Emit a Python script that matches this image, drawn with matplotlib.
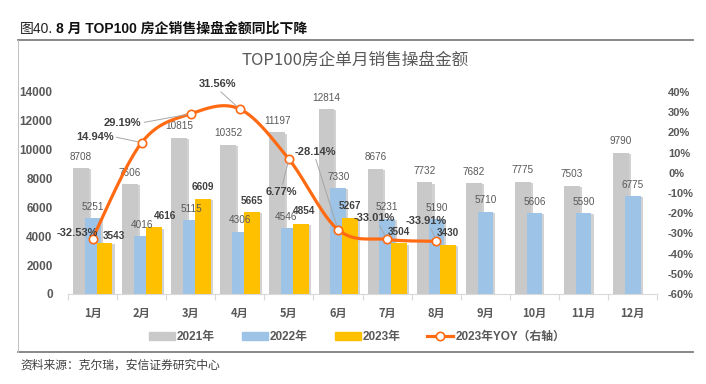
import numpy as np
import matplotlib
matplotlib.use("Agg")
import matplotlib.pyplot as plt
from matplotlib.patches import Rectangle
from matplotlib.lines import Line2D
import matplotlib.patheffects as pe

plt.rcParams['font.family'] = ['Liberation Sans', 'Noto Sans CJK SC', 'DejaVu Sans']

months = ['1月', '2月', '3月', '4月', '5月', '6月', '7月', '8月', '9月', '10月', '11月', '12月']
s2021 = [8708, 7606, 10815, 10352, 11197, 12814, 8676, 7732, 7682, 7775, 7503, 9790]
s2022 = [5251, 4016, 5115, 4306, 4546, 7330, 5231, 5190, 5710, 5606, 5590, 6775]
s2023 = [3543, 4616, 6609, 5665, 4854, 5267, 3504, 3430]
yoy = [-32.53, 14.94, 29.19, 31.56, 6.77, -28.14, -33.01, -33.91]
legend_labels = ['2021年', '2022年', '2023年', '2023年YOY（右轴）']

W, H = 706, 384
fig = plt.figure(figsize=(W / 100, H / 100), dpi=100)

def fx(x):
    return x / W

def fy(y):
    return 1 - y / H

C21, C22, C23, CL = '#C9C9C9', '#9DC3E6', '#FFC000', '#FF6A13'
TXT = '#595959'

ax = fig.add_axes([fx(68), fy(294), fx(657) - fx(68), fy(92) - fy(294)])
ax2 = ax.twinx()
ax.set_zorder(1)
ax2.set_zorder(2)
ax.patch.set_visible(False)

x = np.arange(len(months))
bw = 0.32
shadow = [pe.SimplePatchShadow(offset=(1.5, -0.8), alpha=0.35, shadow_rgbFace='#7f7f7f'), pe.Normal()]
b1 = ax.bar(x - 0.235, s2021, bw, color=C21, zorder=2)
b2 = ax.bar(x + 0.005, s2022, bw, color=C22, zorder=3)
b3 = ax.bar(x[:len(s2023)] + 0.245, s2023, bw, color=C23, zorder=4)
for bars in (b1, b2, b3):
    for r in bars:
        r.set_path_effects(shadow)

ax.set_xlim(-0.5, len(months) - 0.5)
ax.set_ylim(0, 14000)
ax.set_yticks(np.arange(0, 14001, 2000))
ax.set_xticks(x)
ax.set_xticklabels(months, family=['Noto Sans CJK SC'], fontweight='bold', fontsize=8, color=TXT)
ax.set_xticks(np.arange(-0.5, len(months), 1), minor=True)
ax.tick_params(axis='x', which='major', length=0, pad=9)
ax.tick_params(axis='x', which='minor', length=4, color='#D9D9D9', width=0.8)
ax.tick_params(axis='y', length=0, pad=11, labelsize=8.5, labelcolor=TXT)
for t in ax.get_yticklabels():
    t.set_fontweight('bold')
for sp in ['top', 'right', 'left']:
    ax.spines[sp].set_visible(False)
ax.spines['bottom'].set_color('#D9D9D9')
ax.spines['bottom'].set_linewidth(0.8)

ax2.set_ylim(-60, 40)
ax2.set_yticks(np.arange(-60, 41, 10))
ax2.set_yticklabels([f'{v}%' for v in range(-60, 41, 10)])
ax2.tick_params(axis='y', length=0, pad=8, labelsize=8, labelcolor=TXT)
for t in ax2.get_yticklabels():
    t.set_fontweight('bold')
for sp in ax2.spines.values():
    sp.set_visible(False)

LFS = 7.2
# bar labels
for i, v in enumerate(s2021):
    ax.annotate(str(v), (x[i] - 0.235, v), xytext=(0, 8.3), textcoords='offset points',
                ha='center', va='center', fontsize=LFS, color=TXT, zorder=6)
for i, v in enumerate(s2022):
    dx = -2 if i == 4 else 0
    ax.annotate(str(v), (x[i] + 0.005, v), xytext=(dx, 8.3), textcoords='offset points',
                ha='center', va='center', fontsize=LFS, color=TXT, zorder=6)
y23_off = [(6.5, 5), (8.3, 8.3), (0, 8.3), (0, 8.3), (2, 9.5), (0, 8.3), (0, 8.3), (0, 8.3)]
for i, v in enumerate(s2023):
    dx, dy = y23_off[i]
    ax.annotate(str(v), (x[i] + 0.245, v), xytext=(dx, dy), textcoords='offset points',
                ha='center', va='center', fontsize=LFS, color='#404040', fontweight='bold', zorder=6)

# smooth YOY line (Catmull-Rom through the points)
px = np.arange(len(yoy), dtype=float)
py = np.array(yoy, dtype=float)
P = np.column_stack([px, py])
Pe = np.vstack([P[0], P, P[-1]])
curve = []
for k in range(1, len(Pe) - 2):
    p0, p1, p2, p3 = Pe[k - 1], Pe[k], Pe[k + 1], Pe[k + 2]
    t = np.linspace(0, 1, 30)[:, None]
    seg = 0.5 * ((2 * p1) + (-p0 + p2) * t + (2 * p0 - 5 * p1 + 4 * p2 - p3) * t ** 2
                 + (-p0 + 3 * p1 - 3 * p2 + p3) * t ** 3)
    curve.append(seg)
curve = np.vstack(curve)
ax2.plot(curve[:, 0], curve[:, 1], color=CL, lw=2.3, zorder=5, solid_capstyle='round')
ax2.plot(px, py, ls='none', marker='o', ms=6, mfc='white', mec=CL, mew=1.2, zorder=6)

# YOY labels (offsets in pixels: dx, dy up), leader flag, relpos
yoy_pos = [(-15, 6, False, (0.5, 0.5)), (-47, 6, True, (1, 0.5)), (-68, -9, True, (1, 0.5)),
           (-22, 25, True, (0.5, 0)), (-7, -33, True, (0.5, 1)), (-23, 78, True, (0.5, 0)),
           (-13, 21.5, True, (0.6, 0)), (-10, 20, True, (0.6, 0))]
for i, v in enumerate(yoy):
    dx, dy, lead, rp = yoy_pos[i]
    kw = {}
    if lead:
        kw['arrowprops'] = dict(arrowstyle='-', color='#A6A6A6', lw=0.7, shrinkA=0, shrinkB=3, relpos=rp)
    ax2.annotate(f'{v:.2f}%', (px[i], v), xytext=(dx * 0.72, dy * 0.72), textcoords='offset points',
                 ha='center', va='center', fontsize=8, fontweight='bold', color='#404040', zorder=7, **kw)

# titles
fig.text(fx(20), fy(29), '图40.', family=['Liberation Sans', 'Noto Sans CJK SC'], fontsize=10,
         color='#222222', va='center', ha='left')
fig.text(fx(56), fy(29), '8 月 TOP100 房企销售操盘金额同比下降', family=['Liberation Sans', 'Noto Sans CJK SC'],
         fontsize=10, fontweight='bold', color='#111111', va='center', ha='left')
fig.text(fx(355), fy(60), 'TOP100房企单月销售操盘金额', family=['Noto Sans CJK SC'], fontsize=12,
         color=TXT, va='center', ha='center')

# frame lines
fig.add_artist(Line2D([fx(18), fx(693)], [fy(40), fy(40)], color='#7F7F7F', lw=1.3))
fig.add_artist(Line2D([fx(18), fx(693)], [fy(352), fy(352)], color='#7F7F7F', lw=1.3))
fig.add_artist(Line2D([fx(18), fx(18)], [fy(40), fy(352)], color='#BFBFBF', lw=0.7))

# legend
handles = [Rectangle((0, 0), 1, 1, color=C21), Rectangle((0, 0), 1, 1, color=C22),
           Rectangle((0, 0), 1, 1, color=C23),
           Line2D([], [], color=CL, lw=2.3, marker='o', ms=6, mfc='white', mec=CL, mew=1.2)]
leg = fig.legend(handles, legend_labels, loc='center', bbox_to_anchor=(fx(357), fy(337)), ncol=4,
                 frameon=False, handlelength=2.2, handleheight=0.6, handletextpad=0.15,
                 columnspacing=2.3, prop={'family': ['Liberation Sans', 'Noto Sans CJK SC'], 'weight': 'bold', 'size': 8.5})
for t in leg.get_texts():
    t.set_color(TXT)

fig.text(fx(20), fy(365), '资料来源：克尔瑞，安信证券研究中心', family=['Noto Sans CJK SC'], fontsize=8.5,
         color='#404040', va='center', ha='left', style='italic')

fig.savefig('out.png', dpi=100)
